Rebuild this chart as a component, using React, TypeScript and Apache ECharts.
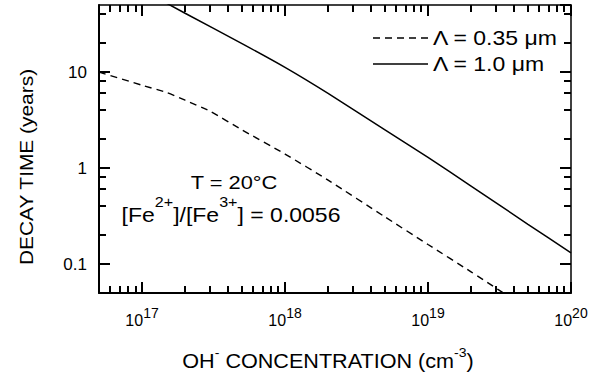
import React, { useEffect, useRef } from 'react';
import * as echarts from 'echarts';

// Λ = 0.35 µm (dashed)
const dashedX = [5e16, 1e17, 1.5e17, 2e17, 3e17, 5e17, 1e18, 2e18, 5e18, 1e19, 2e19, 5e19];
const dashedY = [10, 7.3, 6.1, 5.1, 3.9, 2.5, 1.4, 0.75, 0.31, 0.16, 0.083, 0.034];
// Λ = 1.0 µm (solid)
const solidX = [1e17, 2e17, 5e17, 1e18, 2e18, 5e18, 1e19, 2e19, 5e19, 1e20];
const solidY = [72, 41, 19.8, 11.2, 6.0, 2.5, 1.29, 0.65, 0.26, 0.131];

const xMin = 5e16;
const xMax = 1e20;
const yMin = 0.05;
const yMax = 50;

const xMinorTicks = [
  6e16, 7e16, 8e16, 9e16,
  2e17, 3e17, 4e17, 5e17, 6e17, 7e17, 8e17, 9e17,
  2e18, 3e18, 4e18, 5e18, 6e18, 7e18, 8e18, 9e18,
  2e19, 3e19, 4e19, 5e19, 6e19, 7e19, 8e19, 9e19,
];
const yMinorTicks = [0.2, 0.4, 0.6, 0.8, 2, 4, 6, 8, 20, 40];

const legendLabels = ['Λ = 0.35 μm', 'Λ = 1.0 μm'];
const tempLabel = 'T = 20°C';
const ratioLabel = '[Fe{s|2+}]/[Fe{s|3+}] = 0.0056';
const yTitle = 'DECAY TIME (years)';
const xTitle = 'OH{s|-} CONCENTRATION (cm{s|-3})';

const FONT = '"Liberation Sans", Arial, Helvetica, sans-serif';

export default function App() {
  const ref = useRef<HTMLDivElement>(null);
  useEffect(() => {
    document.body.style.margin = '0';
    const chart = echarts.init(ref.current!, null, { renderer: 'svg' });

    const axisCommon = {
      type: 'log' as const,
      logBase: 10,
      splitLine: { show: false },
      axisTick: { show: true, inside: true, length: 11, lineStyle: { color: '#000', width: 2 } },
    };

    chart.setOption({
      animation: false,
      backgroundColor: '#fff',
      grid: { left: 99, top: 5, right: 32, bottom: 87, containLabel: false },
      xAxis: [
        {
          ...axisCommon,
          position: 'bottom',
          min: xMin,
          max: xMax,
          axisLine: { show: true, lineStyle: { color: '#000', width: 2 } },
          axisLabel: {
            show: true,
            margin: 13,
            showMinLabel: false,
            showMaxLabel: true,
            color: '#000',
            fontSize: 16,
            lineHeight: 28,
            fontFamily: FONT,
            formatter: (v: number) => `10{s|${Math.round(Math.log10(v))}}`,
            rich: {
              s: { fontSize: 14, lineHeight: 10, verticalAlign: 'top', fontFamily: FONT, color: '#000' },
            },
          },
        },
        {
          ...axisCommon,
          position: 'top',
          min: xMin,
          max: xMax,
          axisLine: { show: true, lineStyle: { color: '#000', width: 1.5 } },
          axisLabel: { show: false },
        },
      ],
      yAxis: [
        {
          ...axisCommon,
          position: 'left',
          min: yMin,
          max: yMax,
          axisLine: { show: true, lineStyle: { color: '#000', width: 2 } },
          axisLabel: {
            show: true,
            margin: 12,
            showMinLabel: false,
            showMaxLabel: false,
            color: '#000',
            fontSize: 17,
            fontFamily: FONT,
            formatter: (v: number) => String(parseFloat(v.toPrecision(4))),
          },
        },
        {
          ...axisCommon,
          position: 'right',
          min: yMin,
          max: yMax,
          axisLine: { show: true, lineStyle: { color: '#000', width: 1.5 } },
          axisLabel: { show: false },
        },
      ],
      series: [
        {
          name: legendLabels[0],
          type: 'line',
          xAxisIndex: 0,
          yAxisIndex: 0,
          data: dashedX.map((x, i) => [x, dashedY[i]]),
          showSymbol: false,
          symbol: 'none',
          smooth: 0.2,
          clip: true,
          lineStyle: { color: '#000', width: 1.4, type: [7, 5] },
        },
        {
          name: legendLabels[1],
          type: 'line',
          xAxisIndex: 0,
          yAxisIndex: 0,
          data: solidX.map((x, i) => [x, solidY[i]]),
          showSymbol: false,
          symbol: 'none',
          smooth: 0.2,
          clip: true,
          lineStyle: { color: '#000', width: 1.5, type: 'solid' },
        },
      ],
    });

    const toPx = (x: number, y: number): number[] =>
      chart.convertToPixel({ xAxisIndex: 0, yAxisIndex: 0 }, [x, y]) as unknown as number[];
    const corner0 = toPx(xMin, yMin);
    const corner1 = toPx(xMax, yMax);
    const left = corner0[0];
    const bottom = corner0[1];
    const right = corner1[0];
    const top = corner1[1];
    const W = 2;
    const LEN = 7;
    const ticks: any[] = [];
    const bar = (x: number, y: number, width: number, height: number) => ({
      type: 'rect',
      z: 100,
      shape: { x, y, width, height },
      style: { fill: '#000', stroke: 'none' },
    });
    xMinorTicks.forEach((v) => {
      const p = Math.round(toPx(v, 1)[0]);
      ticks.push(bar(p - W / 2, bottom - LEN, W, LEN));
      ticks.push(bar(p - W / 2, top, W, LEN));
    });
    yMinorTicks.forEach((v) => {
      const p = Math.round(toPx(1e18, v)[1]);
      ticks.push(bar(left, p - W / 2, LEN, W));
      ticks.push(bar(right - LEN, p - W / 2, LEN, W));
    });

    const labels: any[] = [
      { type: 'line', shape: { x1: 373, y1: 38, x2: 428, y2: 38 }, style: { stroke: '#000', lineWidth: 1.4, lineDash: [7, 5] } },
      {
        type: 'text', x: 433, y: 38, scaleX: 1.15,
        style: { text: legendLabels[0], fontSize: 20, fontFamily: FONT, fill: '#000', align: 'left', verticalAlign: 'middle' },
      },
      { type: 'line', shape: { x1: 373, y1: 64, x2: 428, y2: 64 }, style: { stroke: '#000', lineWidth: 1.5 } },
      {
        type: 'text', x: 433, y: 64, scaleX: 1.15,
        style: { text: legendLabels[1], fontSize: 20, fontFamily: FONT, fill: '#000', align: 'left', verticalAlign: 'middle' },
      },
      {
        type: 'text', x: 234, y: 182, scaleX: 1.15,
        style: { text: tempLabel, fontSize: 19, fontFamily: FONT, fill: '#000', align: 'center', verticalAlign: 'middle' },
      },
      {
        type: 'text', x: 231, y: 215, scaleX: 1.15,
        style: {
          text: ratioLabel, fontSize: 20, fontFamily: FONT, fill: '#000', align: 'center', verticalAlign: 'middle',
          lineHeight: 40,
          rich: {
            s: { fontSize: 14, lineHeight: 12, verticalAlign: 'top', fontFamily: FONT, fill: '#000' },
          },
        },
      },
      {
        type: 'text', x: 26, y: 167, rotation: Math.PI / 2, scaleX: 1.1,
        style: { text: yTitle, fontSize: 19, fontFamily: FONT, fill: '#000', align: 'center', verticalAlign: 'middle' },
      },
      {
        type: 'text', x: 328, y: 361, scaleX: 1.08,
        style: {
          text: xTitle, fontSize: 20, fontFamily: FONT, fill: '#000', align: 'center', verticalAlign: 'middle',
          lineHeight: 30,
          rich: {
            s: { fontSize: 13, lineHeight: 12, verticalAlign: 'top', fontFamily: FONT, fill: '#000' },
          },
        },
      },
    ];

    chart.setOption({ graphic: [...ticks, ...labels] });
    return () => chart.dispose();
  }, []);
  return <div ref={ref} style={{ width: 603, height: 380 }} />;
}
